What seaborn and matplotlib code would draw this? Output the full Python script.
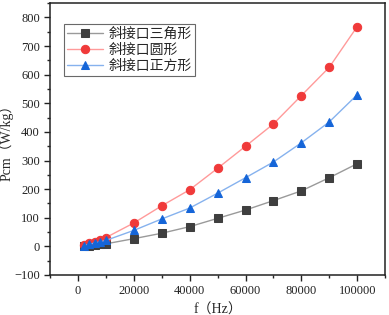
import seaborn as sns
import matplotlib.pyplot as plt
import pandas as pd
from matplotlib.ticker import MultipleLocator

freq = [2000, 4000, 6000, 8000, 10000, 20000, 30000, 40000, 50000,
        60000, 70000, 80000, 90000, 100000]
tri = [1, 3, 5, 7, 9, 27, 46, 69, 98, 127, 160, 194, 240, 289]
circ = [5, 11, 17, 24, 31, 82, 142, 198, 273, 350, 428, 527, 626, 768]
square = [3, 7, 12, 16, 21, 56, 96, 134, 186, 240, 295, 362, 435, 530]
names = ["斜接口三角形", "斜接口圆形", "斜接口正方形"]

df = pd.concat([
    pd.DataFrame({"f": freq, "P": tri, "type": names[0]}),
    pd.DataFrame({"f": freq, "P": circ, "type": names[1]}),
    pd.DataFrame({"f": freq, "P": square, "type": names[2]}),
])

sns.set_style("ticks")
plt.rcParams['font.family'] = ['Liberation Serif', 'Noto Sans CJK SC']

line_cols = ["#9a9a9a", "#ff9a9a", "#86b2ee"]
mark_cols = ["#3f3f3f", "#f03a3a", "#1565d8"]
markers = ["s", "o", "^"]

fig = plt.figure(figsize=(3.89, 3.15), dpi=100)
ax = fig.add_axes([0.129, 0.127, 0.861, 0.863])

for name, lc, mc, mk in zip(names, line_cols, mark_cols, markers):
    sub = df[df["type"] == name]
    sns.lineplot(data=sub, x="f", y="P", ax=ax, color=lc, lw=1,
                 marker=mk, markersize=6, markerfacecolor=mc,
                 markeredgecolor=mc, label=name)

ax.set_xlim(-10000, 110000)
ax.set_ylim(-100, 850)
ax.xaxis.set_major_locator(MultipleLocator(20000))
ax.xaxis.set_minor_locator(MultipleLocator(10000))
ax.yaxis.set_major_locator(MultipleLocator(100))
ax.yaxis.set_minor_locator(MultipleLocator(50))
ax.tick_params(which="major", length=4, width=1, labelsize=9, colors="#222222")
ax.tick_params(which="minor", length=2.5, width=1)
for s in ax.spines.values():
    s.set_linewidth(1.1)
    s.set_color("#222222")

ax.set_xlabel("f（Hz）", fontsize=10, labelpad=4)
ax.set_ylabel("Pcm（W/kg）", fontsize=10, labelpad=0)

leg = ax.legend(loc="upper left", bbox_to_anchor=(0.04, 0.923), fontsize=10,
                frameon=True, fancybox=False, handlelength=2.6,
                borderpad=0.25, labelspacing=0.2, handletextpad=0.4,
                borderaxespad=0)
leg.get_frame().set_edgecolor("#444444")
leg.get_frame().set_linewidth(0.8)

fig.savefig("out.png", dpi=100)
